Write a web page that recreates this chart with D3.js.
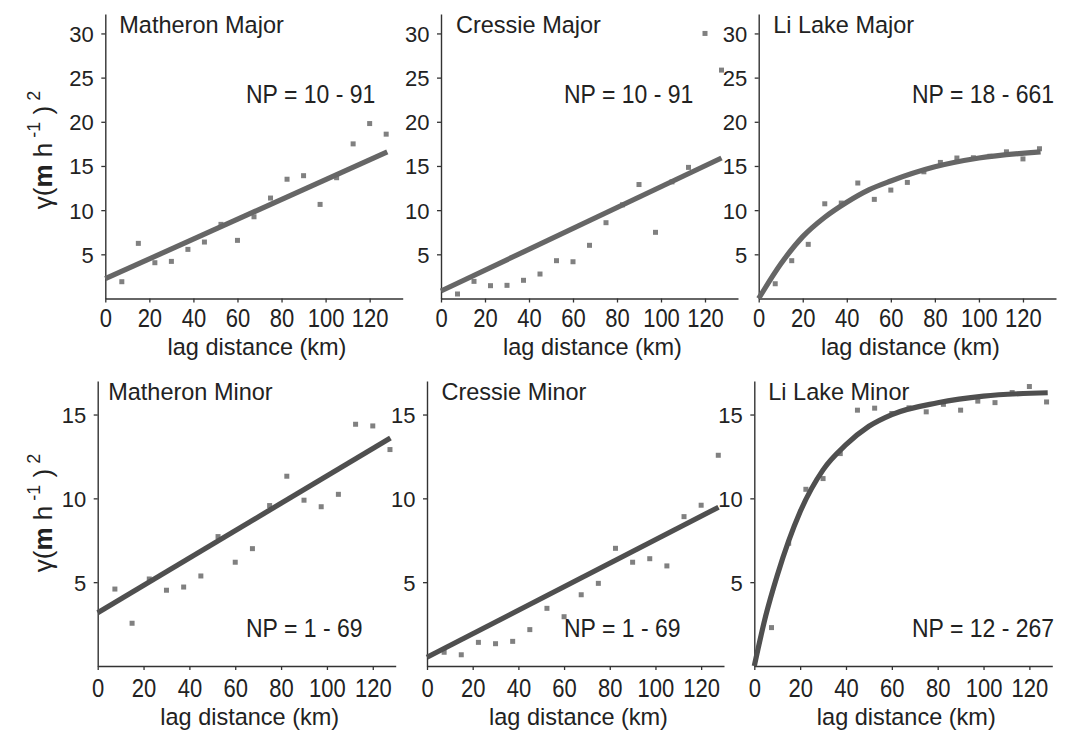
<!DOCTYPE html>
<html>
<head>
<meta charset="utf-8">
<script src="https://cdn.jsdelivr.net/npm/d3@7"></script>
<style>
  html, body { margin: 0; padding: 0; background: #fff; }
  svg { display: block; font-family: "Liberation Sans", Arial, sans-serif; }
</style>
</head>
<body>
<svg id="chart" width="1067" height="736"></svg>
<script>
// Lag bin centres (km) shared by all six empirical variograms
const lags = [7.5, 15, 22.5, 30, 37.5, 45, 52.5, 60, 67.5, 75, 82.5, 90, 97.5, 105, 112.5, 120, 127.5];

// Empirical semivariance, (m h^-1)^2
const matheronMajor = [1.9, 6.24, 4.05, 4.2, 5.56, 6.39, 8.39, 6.58, 9.25, 11.37, 13.5, 13.9, 10.65, 13.67, 17.5, 19.8, 18.6];
const cressieMajor  = [0.51, 1.94, 1.45, 1.49, 2.06, 2.77, 4.28, 4.16, 6.02, 8.58, 10.6, 12.9, 7.49, 13.2, 14.84, 30.0, 25.85];
const liLakeMajor   = [1.67, 4.28, 6.13, 10.72, 10.8, 13.07, 11.22, 12.27, 13.14, 14.34, 15.4, 15.9, 15.93, 16.1, 16.6, 15.8, 16.95];
const matheronMinor = [4.59, 2.55, 5.19, 4.52, 4.71, 5.37, 7.72, 6.19, 7.0, 9.57, 11.32, 9.89, 9.5, 10.24, 14.42, 14.32, 12.91];
const cressieMinor  = [0.82, 0.67, 1.41, 1.33, 1.47, 2.17, 3.44, 2.94, 4.25, 4.93, 7.02, 6.19, 6.4, 5.97, 8.91, 9.59, 12.57];
const liLakeMinor   = [2.29, 7.32, 10.54, 11.18, 12.67, 15.26, 15.38, 15.06, 15.4, 15.16, 15.61, 15.26, 15.8, 15.71, 16.31, 16.67, 15.75];

// Fitted variogram models, as [lag, semivariance] pairs
const matheronMajorFit = [[0, 2.24], [128, 16.6]];
const cressieMajorFit  = [[0, 0.85], [127.5, 15.9]];
const liLakeMajorFit   = [[0, 0], [10, 3.9], [20, 7.0], [30, 9.2], [40, 10.9], [50, 12.3], [60, 13.3], [80, 14.9], [100, 15.9], [128, 16.6]];
const matheronMinorFit = [[0, 3.18], [127.7, 13.6]];
const cressieMinorFit  = [[0, 0.52], [127.6, 9.47]];
const liLakeMinorFit   = [[0, 0], [5, 3.0], [10, 5.4], [20, 9.2], [30, 11.7], [40, 13.2], [50, 14.3], [60, 15.0], [80, 15.7], [100, 16.1], [128, 16.3]];

// Panel titles and pair-count annotations
const titles = ["Matheron Major", "Cressie Major", "Li Lake Major", "Matheron Minor", "Cressie Minor", "Li Lake Minor"];
const npLabels = ["NP = 10 - 91", "NP = 10 - 91", "NP = 18 - 661", "NP = 1 - 69", "NP = 1 - 69", "NP = 12 - 267"];

// Axis ticks
const xTicks = [0, 20, 40, 60, 80, 100, 120];
const yTicksMajor = [5, 10, 15, 20, 25, 30];
const yTicksMinor = [5, 10, 15];

const pointSeries = [matheronMajor, cressieMajor, liLakeMajor, matheronMinor, cressieMinor, liLakeMinor];
const fitSeries = [matheronMajorFit, cressieMajorFit, liLakeMajorFit, matheronMinorFit, cressieMinorFit, liLakeMinorFit];

// ---- layout ----
const rows = [
  { top: 14, bottom: 298.5, yMax: 32.2, ticks: yTicksMajor, xMax: 135, tickBase: 327, titleBase: 354.5, labelBase: 32.7, npBase: 103, ylabY: 150, lineColor: "#666666" },
  { top: 381, bottom: 666, yMax: 17, ticks: yTicksMinor, xMax: 130, tickBase: 697, titleBase: 724.5, labelBase: 399.5, npBase: 637, ylabY: 513, lineColor: "#4f4f4f" }
];
const panels = [
  { row: 0, x0: 105.3, x1: 402.7, npX: 246, titleDx: 14 },
  { row: 0, x0: 441,   x1: 738,   npX: 564, titleDx: 15 },
  { row: 0, x0: 758.7, x1: 1056,  npX: 912, titleDx: 14.5 },
  { row: 1, x0: 97.7,  x1: 395.7, npX: 246, titleDx: 10.5 },
  { row: 1, x0: 427,   x1: 724,   npX: 564, titleDx: 14.5 },
  { row: 1, x0: 754.3, x1: 1052.3, npX: 912, titleDx: 14 }
];

const svg = d3.select("#chart");
const textColor = "#222";
const axisColor = "#333";

function addText(g, str, x, y, size, sy, anchor) {
  return g.append("text")
    .attr("transform", `translate(${x},${y}) scale(1,${sy})`)
    .attr("font-size", size)
    .attr("fill", textColor)
    .attr("text-anchor", anchor || "start")
    .text(str);
}

panels.forEach((p, i) => {
  const r = rows[p.row];
  const x = d3.scaleLinear().domain([0, r.xMax]).range([p.x0, p.x1]);
  const y = d3.scaleLinear().domain([0, r.yMax]).range([r.bottom, r.top]);
  const g = svg.append("g");

  // x axis
  const xa = g.append("g")
    .attr("transform", `translate(0,${r.bottom})`)
    .call(d3.axisBottom(x).tickValues(xTicks).tickSize(4).tickSizeOuter(0));
  xa.selectAll("text")
    .attr("y", null).attr("dy", null)
    .attr("transform", `translate(0,${r.tickBase - r.bottom}) scale(1,1.15)`)
    .attr("font-size", 22).attr("font-family", "Liberation Sans, Arial, sans-serif")
    .attr("fill", textColor);

  // y axis
  const ya = g.append("g")
    .attr("transform", `translate(${p.x0},0)`)
    .call(d3.axisLeft(y).tickValues(r.ticks).tickSize(4).tickSizeOuter(0));
  ya.selectAll("text")
    .attr("x", -11.5).attr("dy", "0.36em")
    .attr("font-size", 22).attr("font-family", "Liberation Sans, Arial, sans-serif")
    .attr("fill", textColor);

  [xa, ya].forEach(a => {
    a.select(".domain").attr("stroke", axisColor).attr("stroke-width", 1.4);
    a.selectAll(".tick line").attr("stroke", axisColor).attr("stroke-width", 1.3);
  });

  // empirical semivariance points
  g.append("g").selectAll("rect")
    .data(lags.map((h, k) => [h, pointSeries[i][k]]))
    .join("rect")
    .attr("x", d => x(d[0]) - 2.5)
    .attr("y", d => y(d[1]) - 2.5)
    .attr("width", 5).attr("height", 5)
    .attr("fill", "#808080");

  // fitted model
  const line = d3.line()
    .x(d => x(d[0])).y(d => y(d[1]))
    .curve(d3.curveMonotoneX);
  g.append("path")
    .datum(fitSeries[i])
    .attr("d", line)
    .attr("fill", "none")
    .attr("stroke", r.lineColor)
    .attr("stroke-width", 5.2)
    .attr("stroke-linecap", "butt");

  // titles and annotations
  addText(g, titles[i], p.x0 + p.titleDx, r.labelBase, 23.5, 1.05);
  addText(g, npLabels[i], p.npX, r.npBase, 23, 1.11);
  addText(g, "lag distance (km)", (p.x0 + p.x1) / 2 + 3, r.titleBase, 23.5, 1.04, "middle");
});

// y axis labels on the left-hand panels
rows.forEach(r => {
  const t = svg.append("text")
    .attr("transform", `translate(52,${r.ylabY}) rotate(-90)`)
    .attr("text-anchor", "middle")
    .attr("font-size", 26)
    .attr("fill", textColor);
  t.append("tspan").text("\u03b3(");
  t.append("tspan").attr("font-weight", "bold").text("m");
  t.append("tspan").text(" h");
  t.append("tspan").attr("font-size", 18).attr("dy", -12).text(" -1");
  t.append("tspan").attr("dy", 12).text(" )");
  t.append("tspan").attr("font-size", 18).attr("dy", -12).text(" 2");
});
</script>
</body>
</html>
